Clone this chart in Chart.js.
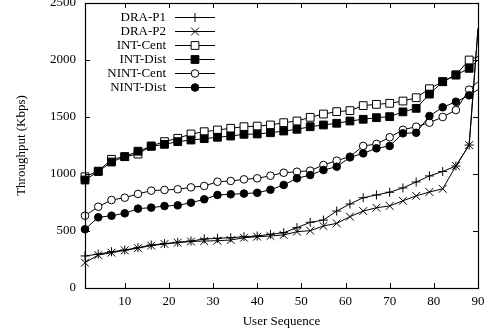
<!DOCTYPE html>
<html>
<head>
<meta charset="utf-8">
<title>Throughput per user</title>
<script src="https://cdn.jsdelivr.net/npm/chart.js@4/dist/chart.umd.min.js"></script>
<style>
  html, body { margin: 0; padding: 0; background: #fff; }
  #wrap { width: 491px; height: 332px; }
</style>
</head>
<body>
<div id="wrap"><canvas id="throughputChart" width="491" height="332"></canvas></div>
<script>
// user index of each sample (markers every 3 users, last point at 90)
const userSeq = [1, 4, 7, 10, 13, 16, 19, 22, 25, 28, 31, 34, 37, 40, 43, 46, 49, 52, 55, 58, 61, 64, 67, 70, 73, 76, 79, 82, 85, 88, 90];

const draP1 = [281, 297, 318, 333, 354, 377, 389, 401, 412, 430, 436, 441, 450, 456, 471, 485, 529, 576, 596, 675, 737, 792, 816, 840, 878, 930, 983, 1022, 1070, 1254, 2280];
const draP2 = [222, 289, 310, 330, 350, 372, 386, 398, 408, 412, 415, 421, 441, 450, 456, 465, 494, 503, 544, 567, 626, 675, 704, 720, 765, 808, 842, 870, 1070, 1254, 2270];
const intCent = [976, 1025, 1129, 1152, 1175, 1246, 1284, 1313, 1351, 1371, 1386, 1401, 1415, 1420, 1430, 1450, 1465, 1497, 1526, 1547, 1556, 1600, 1611, 1620, 1640, 1669, 1748, 1810, 1870, 2000, 2030];
const intDist = [947, 1022, 1105, 1152, 1200, 1243, 1260, 1284, 1298, 1310, 1322, 1333, 1348, 1351, 1362, 1377, 1392, 1415, 1430, 1445, 1465, 1480, 1494, 1503, 1545, 1576, 1701, 1810, 1868, 1927, 2000];
const nintCent = [634, 713, 772, 792, 825, 854, 860, 866, 883, 895, 932, 939, 953, 962, 985, 1011, 1020, 1029, 1079, 1117, 1152, 1246, 1263, 1322, 1388, 1415, 1450, 1500, 1561, 1740, 1810];
const nintDist = [515, 620, 634, 655, 696, 705, 719, 725, 748, 778, 816, 822, 828, 835, 862, 904, 962, 991, 1035, 1064, 1146, 1181, 1225, 1246, 1357, 1362, 1509, 1585, 1634, 1690, 1740];

const seriesNames = ["DRA-P1", "DRA-P2", "INT-Cent", "INT-Dist", "NINT-Cent", "NINT-Dist"];
const seriesValues = [draP1, draP2, intCent, intDist, nintCent, nintDist];

const xTickValues = [10, 20, 30, 40, 50, 60, 70, 80, 90];
const yTickValues = [0, 500, 1000, 1500, 2000, 2500];

// marker look per series
const markerStyles = [
  { shape: "cross", radius: 4.5, fill: "#000" },
  { shape: "crossRot", radius: 5.5, fill: "#000" },
  { shape: "rect", radius: 5.5, fill: "#fff" },
  { shape: "rect", radius: 5.5, fill: "#000" },
  { shape: "circle", radius: 3.8, fill: "#fff" },
  { shape: "circle", radius: 3.8, fill: "#000" },
];

Chart.defaults.font.family = "'Liberation Serif', 'Times New Roman', serif";
Chart.defaults.font.size = 13;
Chart.defaults.color = "#000";

function drawMarker(ctx, style, x, y) {
  const r = style.radius;
  ctx.beginPath();
  if (style.shape === "cross") {
    ctx.moveTo(x - r, y);
    ctx.lineTo(x + r, y);
    ctx.moveTo(x, y - r);
    ctx.lineTo(x, y + r);
    ctx.stroke();
  } else if (style.shape === "crossRot") {
    const d = r * Math.SQRT1_2;
    ctx.moveTo(x - d, y - d);
    ctx.lineTo(x + d, y + d);
    ctx.moveTo(x - d, y + d);
    ctx.lineTo(x + d, y - d);
    ctx.stroke();
  } else if (style.shape === "rect") {
    const s = r * Math.SQRT1_2;
    ctx.rect(x - s, y - s, 2 * s, 2 * s);
    ctx.fillStyle = style.fill;
    ctx.fill();
    ctx.stroke();
  } else {
    ctx.arc(x, y, r, 0, Math.PI * 2);
    ctx.fillStyle = style.fill;
    ctx.fill();
    ctx.stroke();
  }
}

// no extra room for overhanging tick labels, the plot box is fixed
function noLabelPadding(s) {
  s.paddingTop = 0;
  s.paddingBottom = 0;
  s.paddingLeft = 0;
  s.paddingRight = 0;
}

// box round the plot with inward ticks on all four sides
const frameTicks = {
  id: "frameTicks",
  afterDraw(chart) {
    const { ctx, chartArea: a } = chart;
    const xs = chart.scales.x;
    const ys = chart.scales.y;
    const len = 5;
    ctx.save();
    ctx.strokeStyle = "#000";
    ctx.lineWidth = 1;
    ctx.beginPath();
    xs.ticks.forEach((t) => {
      const px = Math.round(xs.getPixelForValue(t.value)) + 0.5;
      ctx.moveTo(px, a.bottom);
      ctx.lineTo(px, a.bottom - len);
      ctx.moveTo(px, a.top);
      ctx.lineTo(px, a.top + len);
    });
    ys.ticks.forEach((t) => {
      const py = Math.round(ys.getPixelForValue(t.value)) + 0.5;
      ctx.moveTo(a.left, py);
      ctx.lineTo(a.left + len, py);
      ctx.moveTo(a.right, py);
      ctx.lineTo(a.right - len, py);
    });
    ctx.stroke();
    ctx.lineWidth = 1.2;
    ctx.strokeRect(Math.round(a.left) + 0.5, Math.round(a.top) + 0.5,
      Math.round(a.right - a.left), Math.round(a.bottom - a.top));
    ctx.restore();
  },
};

// gnuplot-like key: text right aligned, sample line with marker after it
const keyLegend = {
  id: "keyLegend",
  afterDraw(chart) {
    const ctx = chart.ctx;
    const textRight = 166;
    const lineStart = 175;
    const lineEnd = 215;
    const firstRow = 17;
    const rowStep = 13.9;
    ctx.save();
    ctx.font = "13px 'Liberation Serif', 'Times New Roman', serif";
    ctx.textAlign = "right";
    ctx.textBaseline = "middle";
    ctx.strokeStyle = "#000";
    ctx.lineWidth = 1;
    seriesNames.forEach((name, i) => {
      const y = Math.round(firstRow + i * rowStep) + 0.5;
      ctx.fillStyle = "#000";
      ctx.fillText(name, textRight, y);
      ctx.beginPath();
      ctx.moveTo(lineStart, y);
      ctx.lineTo(lineEnd, y);
      ctx.stroke();
      drawMarker(ctx, markerStyles[i], (lineStart + lineEnd) / 2, y);
    });
    ctx.restore();
  },
};

const datasets = seriesNames.map((name, i) => {
  const m = markerStyles[i];
  return {
    label: name,
    data: userSeq.map((u, k) => ({ x: u, y: seriesValues[i][k] })),
    borderColor: "#000",
    borderWidth: 1,
    backgroundColor: m.fill,
    pointStyle: m.shape,
    pointBorderColor: "#000",
    pointBackgroundColor: m.fill,
    pointBorderWidth: 1,
    pointRadius: (c) => (c.dataIndex === userSeq.length - 1 ? 0 : m.radius),
    tension: 0,
    order: seriesNames.length - i,
    clip: false,
  };
});

new Chart(document.getElementById("throughputChart").getContext("2d"), {
  type: "line",
  data: { datasets: datasets },
  options: {
    responsive: false,
    animation: false,
    events: [],
    layout: {
      autoPadding: false,
      padding: { left: 0, right: 13, top: 3, bottom: 0 },
    },
    plugins: {
      legend: { display: false },
      tooltip: { enabled: false },
    },
    scales: {
      x: {
        type: "linear",
        min: 1,
        max: 90,
        afterBuildTicks: (s) => {
          s.ticks = xTickValues.map((v) => ({ value: v }));
        },
        afterFit: (s) => {
          s.height = 44;
          noLabelPadding(s);
        },
        grid: { display: false, drawTicks: false },
        border: { display: false },
        ticks: {
          padding: 6,
          maxRotation: 0,
          autoSkip: false,
          callback: (v) => String(v),
        },
        title: {
          display: true,
          text: "User Sequence",
          padding: { top: 0, bottom: 3 },
        },
      },
      y: {
        type: "linear",
        min: 0,
        max: 2500,
        afterBuildTicks: (s) => {
          s.ticks = yTickValues.map((v) => ({ value: v }));
        },
        afterFit: (s) => {
          s.width = 85;
          noLabelPadding(s);
        },
        grid: { display: false, drawTicks: false },
        border: { display: false },
        ticks: {
          padding: 9,
          callback: (v) => String(v),
        },
        title: {
          display: true,
          text: "Throughput (Kbps)",
          padding: { top: 14, bottom: 0 },
        },
      },
    },
  },
  plugins: [frameTicks, keyLegend],
});
</script>
</body>
</html>
